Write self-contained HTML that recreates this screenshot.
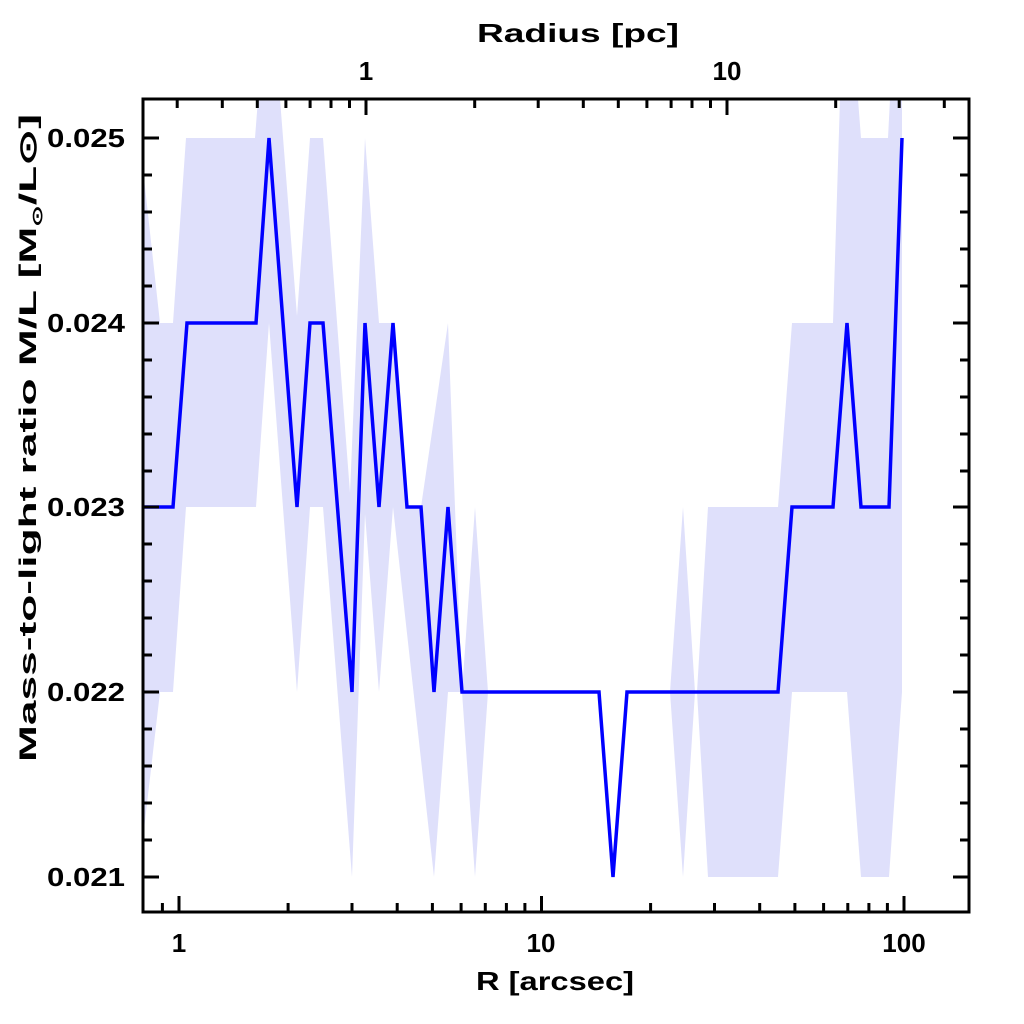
<!DOCTYPE html>
<html><head><meta charset="utf-8"><style>body{margin:0;background:#fff}svg{display:block}text{font-family:"Liberation Sans",sans-serif;font-weight:bold;fill:#000}</style></head>
<body>
<svg width="1024" height="1024" viewBox="0 0 1024 1024" xmlns="http://www.w3.org/2000/svg">
<defs><clipPath id="c"><rect x="143" y="99" width="826" height="813"/></clipPath></defs>
<g clip-path="url(#c)">
<polygon fill="#dfe0fb" points="143,169 160,323 173,323 186,138 255,138 258,99 280,99 297,316 310,138 323,138 350,493 365,138 379,323 393,323 407,507 421,507 448,323 462,692 475,507 488,692 670,692 683,507 695,692 697,692 708,507 778,507 792,323 833,323 840,99 858,99 861,138 888,138 890,99 902,99 902,692 889,877 861,877 847,692 792,692 778,877 708,877 697,692 695,692 683,877 670,692 488,692 475,877 462,692 448,692 434,877 393,507 379,692 365,514 352,877 323,507 310,507 297,692 269,323 256,507 186,507 173,692 160,692 143,838"/>
<polyline fill="none" stroke="#0000ff" stroke-width="3.5" points="143,507 173,507 187,323 256,323 269,138 297,507 310,323 323,323 352,692 365,323 379,507 393,323 407,507 421,507 434,692 448,507 462,692 599,692 613,877 627,692 778,692 792,507 833,507 847,323 861,507 889,507 902,138"/>
</g>
<g stroke="#000" stroke-width="3" fill="none">
<rect x="143" y="99" width="826" height="813"/>
<path d="M162.4 912v-9M179 912v-16M288.1 912v-9M352 912v-9M397.2 912v-9M432.4 912v-9M461.1 912v-9M485.3 912v-9M506.4 912v-9M524.9 912v-9M541.5 912v-16M650.6 912v-9M714.5 912v-9M759.7 912v-9M794.9 912v-9M823.6 912v-9M847.8 912v-9M868.9 912v-9M887.4 912v-9M904 912v-16
M177.2 99v9M222.3 99v9M257.3 99v9M285.9 99v9M310.1 99v9M331 99v9M349.5 99v9M366 99v16M474.7 99v9M538.2 99v9M583.3 99v9M618.3 99v9M646.9 99v9M671.1 99v9M692 99v9M710.5 99v9M727 99v16M835.7 99v9M899.2 99v9M944.3 99v9
M143 877h16M143 840h9M143 803h9M143 766h9M143 729h9M143 692h16M143 655h9M143 618h9M143 581h9M143 544h9M143 507h16M143 471h9M143 434h9M143 397h9M143 360h9M143 323h16M143 286h9M143 249h9M143 212h9M143 175h9M143 138h16
M969 877h-16M969 840h-9M969 803h-9M969 766h-9M969 729h-9M969 692h-16M969 655h-9M969 618h-9M969 581h-9M969 544h-9M969 507h-16M969 471h-9M969 434h-9M969 397h-9M969 360h-9M969 323h-16M969 286h-9M969 249h-9M969 212h-9M969 175h-9M969 138h-16"/>
</g>
<g font-size="26">
<text x="125" y="147" text-anchor="end" textLength="78" lengthAdjust="spacingAndGlyphs">0.025</text>
<text x="125" y="332" text-anchor="end" textLength="78" lengthAdjust="spacingAndGlyphs">0.024</text>
<text x="125" y="516" text-anchor="end" textLength="78" lengthAdjust="spacingAndGlyphs">0.023</text>
<text x="125" y="701" text-anchor="end" textLength="78" lengthAdjust="spacingAndGlyphs">0.022</text>
<text x="125" y="886" text-anchor="end" textLength="78" lengthAdjust="spacingAndGlyphs">0.021</text>
<text x="179" y="952" text-anchor="middle">1</text>
<text x="541" y="952" text-anchor="middle">10</text>
<text x="904" y="952" text-anchor="middle">100</text>
<text x="366" y="80" text-anchor="middle">1</text>
<text x="727" y="80" text-anchor="middle">10</text>
<text x="476" y="990" textLength="158" lengthAdjust="spacingAndGlyphs">R [arcsec]</text>
<text x="477" y="42" textLength="202" lengthAdjust="spacingAndGlyphs">Radius [pc]</text>
<text transform="translate(36,762) rotate(-90)" font-size="24" textLength="648" lengthAdjust="spacingAndGlyphs">Mass-to-light ratio M/L [M<tspan font-size="14" dy="6">⊙</tspan><tspan dy="-6">/L⊙]</tspan></text>
</g>
</svg>
</body></html>
